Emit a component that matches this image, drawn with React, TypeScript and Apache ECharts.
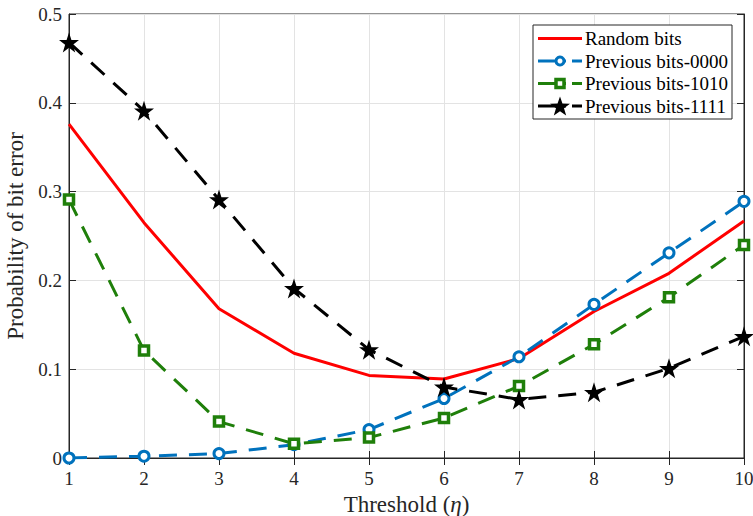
import React, { useEffect, useRef } from "react";
import * as echarts from "echarts";

const thresholds = [1, 2, 3, 4, 5, 6, 7, 8, 9, 10];
const randomBits = [0.376, 0.265, 0.168, 0.118, 0.093, 0.089, 0.112, 0.165, 0.208, 0.267];
const prev0000 = [0.0, 0.002, 0.005, 0.015, 0.032, 0.067, 0.114, 0.173, 0.231, 0.289];
const prev1010 = [0.291, 0.121, 0.041, 0.016, 0.023, 0.045, 0.081, 0.128, 0.181, 0.240];
const prev1111 = [0.468, 0.391, 0.291, 0.191, 0.122, 0.080, 0.066, 0.074, 0.101, 0.137];
const seriesNames = ["Random bits", "Previous bits-0000", "Previous bits-1010", "Previous bits-1111"];

const STAR = "path://M50,0 L61.8,35.4 L99,35.4 L69,57.3 L80.4,92.7 L50,70.8 L19.6,92.7 L31,57.3 L1,35.4 L38.2,35.4 Z";
const FONT = "'Liberation Serif', 'Times New Roman', serif";
const AX = "#262626";
const RED = "#ff0000";
const BLUE = "#0072bd";
const GREEN = "#1f7f0a";
const DASH = [18, 12];

function pairs(ys: number[]) {
  return thresholds.map((x, i) => [x, ys[i]]);
}

function starPoints(cx: number, cy: number, r: number) {
  const pts: number[][] = [];
  for (let k = 0; k < 10; k++) {
    const rr = k % 2 === 0 ? r : r * 0.4;
    const a = -Math.PI / 2 + (k * Math.PI) / 5;
    pts.push([cx + rr * Math.cos(a), cy + rr * Math.sin(a)]);
  }
  return pts;
}

export default function App() {
  const ref = useRef<HTMLDivElement>(null);
  useEffect(() => {
    if (!ref.current) return;
    const chart = echarts.init(ref.current, null, { renderer: "svg" });
    const tickLabel = { fontFamily: FONT, fontSize: 19, color: AX };

    // legend drawn with graphic elements
    const lx0 = 538, lx1 = 582, mx = 560, tx = 585;
    const rows = [38.5, 61, 83.5, 106];
    const colors = [RED, BLUE, GREEN, "#000"];
    const Z = 100;
    const legendEls: any[] = [
      { type: "rect", z: Z, shape: { x: 533, y: 25, width: 199, height: 94 }, style: { fill: "#fff", stroke: AX, lineWidth: 1 } },
    ];
    rows.forEach((y, i) => {
      legendEls.push({
        type: "line",
        z: Z + 1,
        shape: { x1: lx0, y1: y, x2: lx1, y2: y },
        style: { stroke: colors[i], lineWidth: 3, lineDash: i === 0 ? null : [28, 6] },
      });
      legendEls.push({
        type: "text",
        z: Z + 1,
        x: tx,
        y: y,
        style: { text: seriesNames[i], fontFamily: FONT, fontSize: 19, fill: "#000", verticalAlign: "middle", align: "left" },
      });
    });
    legendEls.push({ type: "circle", z: Z + 2, shape: { cx: mx, cy: rows[1], r: 4 }, style: { fill: "#fff", stroke: BLUE, lineWidth: 3 } });
    legendEls.push({ type: "rect", z: Z + 2, shape: { x: mx - 4, y: rows[2] - 4, width: 8, height: 8 }, style: { fill: "#fff", stroke: GREEN, lineWidth: 3.5 } });
    legendEls.push({ type: "polygon", z: Z + 2, shape: { points: starPoints(mx, rows[3] + 1, 10.5) }, style: { fill: "#000" } });

    chart.setOption({
      animation: false,
      backgroundColor: "#fff",
      grid: {
        left: 69, right: 9, top: 14, bottom: 58,
        containLabel: false, outerBoundsMode: "none",
        show: true, borderColor: AX, borderWidth: 1,
      },
      graphic: legendEls,
      xAxis: [
        {
          type: "value",
          min: 1,
          max: 10,
          interval: 1,
          name: "Threshold ({i|η})",
          nameLocation: "middle",
          nameGap: 32,
          nameTextStyle: {
            fontFamily: FONT,
            fontSize: 23,
            color: AX,
            rich: { i: { fontFamily: FONT, fontSize: 23, fontStyle: "italic", color: AX } },
          },
          axisLine: { show: true, lineStyle: { color: AX } },
          axisTick: { show: true, inside: true, length: 7, lineStyle: { color: AX } },
          axisLabel: { ...tickLabel, margin: 11 },
          splitLine: { show: true, lineStyle: { color: "#e3e3e3", width: 1 } },
        },
        {
          type: "value",
          position: "top",
          min: 1,
          max: 10,
          interval: 1,
          axisLine: { show: true, lineStyle: { color: AX } },
          axisTick: { show: true, inside: true, length: 7, lineStyle: { color: AX } },
          axisLabel: { show: false },
          splitLine: { show: false },
        },
      ],
      yAxis: [
        {
          type: "value",
          min: 0,
          max: 0.5,
          interval: 0.1,
          name: "Probability of bit error",
          nameLocation: "middle",
          nameGap: 37,
          nameTextStyle: { fontFamily: FONT, fontSize: 23, color: AX },
          axisLine: { show: true, lineStyle: { color: AX } },
          axisTick: { show: true, inside: true, length: 7, lineStyle: { color: AX } },
          axisLabel: { ...tickLabel, margin: 7, formatter: (v: number) => String(+v.toFixed(1)) },
          splitLine: { show: true, lineStyle: { color: "#e3e3e3", width: 1 } },
        },
        {
          type: "value",
          position: "right",
          min: 0,
          max: 0.5,
          interval: 0.1,
          axisLine: { show: true, lineStyle: { color: AX } },
          axisTick: { show: true, inside: true, length: 7, lineStyle: { color: AX } },
          axisLabel: { show: false },
          splitLine: { show: false },
        },
      ],
      series: [
        {
          name: seriesNames[0],
          type: "line",
          data: pairs(randomBits),
          symbol: "none",
          lineStyle: { color: RED, width: 3 },
          itemStyle: { color: RED },
        },
        {
          name: seriesNames[1],
          type: "line",
          data: pairs(prev0000),
          symbol: "circle",
          symbolSize: 10,
          lineStyle: { color: BLUE, width: 3, type: DASH },
          itemStyle: { color: "#fff", borderColor: BLUE, borderWidth: 3 },
        },
        {
          name: seriesNames[2],
          type: "line",
          data: pairs(prev1010),
          symbol: "rect",
          symbolSize: 9,
          lineStyle: { color: GREEN, width: 3, type: DASH },
          itemStyle: { color: "#fff", borderColor: GREEN, borderWidth: 3.5 },
        },
        {
          name: seriesNames[3],
          type: "line",
          data: pairs(prev1111),
          symbol: STAR,
          symbolSize: 20,
          lineStyle: { color: "#000", width: 3, type: DASH },
          itemStyle: { color: "#000" },
        },
      ],
    });
    return () => chart.dispose();
  }, []);
  return <div ref={ref} style={{ width: 753, height: 516, position: "absolute", left: 0, top: 0 }} />;
}
